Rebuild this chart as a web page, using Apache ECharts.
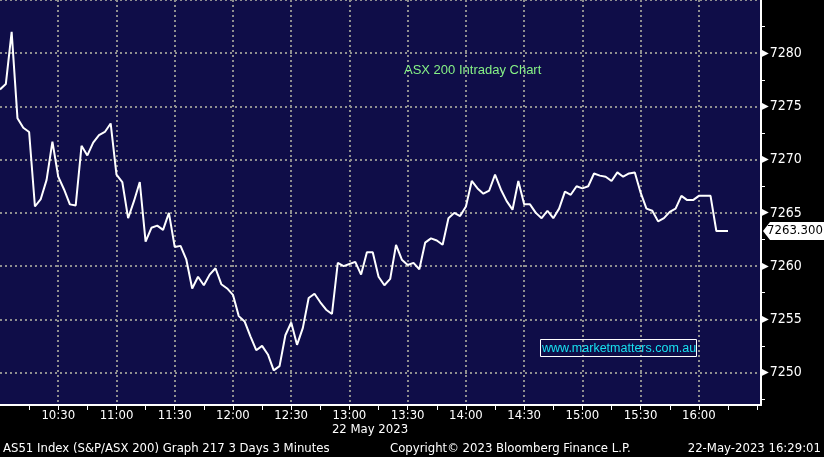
<!DOCTYPE html>
<html>
<head>
<meta charset="utf-8">
<script src="https://cdn.jsdelivr.net/npm/echarts@6/dist/echarts.min.js"></script>
<style>
  html, body { margin: 0; padding: 0; background: #000; }
  #chart { width: 824px; height: 457px; }
</style>
</head>
<body>
<div id="chart"></div>
<script>
// 3-minute bars, 22 May 2023
const times = [
  '10:00','10:03','10:06','10:09','10:12','10:15','10:18','10:21','10:24','10:27',
  '10:30','10:33','10:36','10:39','10:42','10:45','10:48','10:51','10:54','10:57',
  '11:00','11:03','11:06','11:09','11:12','11:15','11:18','11:21','11:24','11:27',
  '11:30','11:33','11:36','11:39','11:42','11:45','11:48','11:51','11:54','11:57',
  '12:00','12:03','12:06','12:09','12:12','12:15','12:18','12:21','12:24','12:27',
  '12:30','12:33','12:36','12:39','12:42','12:45','12:48','12:51','12:54','12:57',
  '13:00','13:03','13:06','13:09','13:12','13:15','13:18','13:21','13:24','13:27',
  '13:30','13:33','13:36','13:39','13:42','13:45','13:48','13:51','13:54','13:57',
  '14:00','14:03','14:06','14:09','14:12','14:15','14:18','14:21','14:24','14:27',
  '14:30','14:33','14:36','14:39','14:42','14:45','14:48','14:51','14:54','14:57',
  '15:00','15:03','15:06','15:09','15:12','15:15','15:18','15:21','15:24','15:27',
  '15:30','15:33','15:36','15:39','15:42','15:45','15:48','15:51','15:54','15:57',
  '16:00','16:03','16:06','16:09','16:12','16:15'
];
const values = [
  7276.6, 7277.1, 7282.0, 7273.9, 7273.0, 7272.6, 7265.6, 7266.3, 7268.1, 7271.7,
  7268.4, 7267.2, 7265.8, 7265.7, 7271.3, 7270.4, 7271.6, 7272.3, 7272.6, 7273.4,
  7268.6, 7267.9, 7264.5, 7266.1, 7267.9, 7262.3, 7263.6, 7263.8, 7263.4, 7265.0,
  7261.8, 7261.9, 7260.6, 7257.9, 7259.0, 7258.2, 7259.2, 7259.8, 7258.3, 7257.9,
  7257.3, 7255.3, 7254.8, 7253.4, 7252.1, 7252.5, 7251.7, 7250.2, 7250.6, 7253.5,
  7254.7, 7252.6, 7254.2, 7257.0, 7257.4, 7256.6, 7255.9, 7255.5, 7260.3, 7260.0,
  7260.2, 7260.4, 7259.2, 7261.3, 7261.3, 7259.0, 7258.2, 7258.8, 7262.0, 7260.6,
  7260.1, 7260.3, 7259.7, 7262.2, 7262.6, 7262.4, 7262.0, 7264.5, 7265.0, 7264.7,
  7265.6, 7268.0, 7267.3, 7266.8, 7267.1, 7268.6, 7267.2, 7266.1, 7265.3, 7268.0,
  7265.8, 7265.8, 7265.0, 7264.5, 7265.2, 7264.5, 7265.4, 7267.0, 7266.7, 7267.5,
  7267.3, 7267.5, 7268.7, 7268.5, 7268.4, 7268.0, 7268.8, 7268.4, 7268.7, 7268.8,
  7266.9, 7265.4, 7265.2, 7264.2, 7264.5, 7265.1, 7265.4, 7266.6, 7266.2, 7266.2,
  7266.6, 7266.6, 7266.6, 7263.3, 7263.3, 7263.3
];
const timeLabels = ['10:30','11:00','11:30','12:00','12:30','13:00','13:30','14:00','14:30','15:00','15:30','16:00'];
const quarterTicks = ['10:15','10:45','11:15','11:45','12:15','12:45','13:15','13:45','14:15','14:45','15:15','15:45','16:15','16:30'];
const priceGrid = [7250, 7255, 7260, 7265, 7270, 7275, 7280, 7285];
const priceLabels = [7250, 7255, 7260, 7265, 7270, 7275, 7280];
const priceMinor = [7247.5, 7252.5, 7257.5, 7262.5, 7267.5, 7272.5, 7277.5, 7282.5];
const lastPrice = 7263.3;

const xMin = 600, xMax = 992;   // minutes since midnight, 10:00 .. ~16:32
const yMin = 7246.95, yMax = 7285;

const toMin = s => { const p = s.split(':'); return +p[0] * 60 + +p[1]; };
const fmtTime = v => {
  const h = Math.floor(v / 60), m = Math.round(v % 60);
  return h + ':' + (m < 10 ? '0' : '') + m;
};

const narrow = '"DejaVu Sans Condensed", "DejaVu Sans", sans-serif';
const gridLine = { show: true, lineStyle: { color: '#8f8f8f', width: 2, type: [2, 3] } };
const footFont = '13px "DejaVu Sans Condensed", "DejaVu Sans", sans-serif';

const chart = echarts.init(document.getElementById('chart'));

const option = {
  backgroundColor: '#000',
  animation: false,
  grid: {
    left: -2.4, right: 63, top: 0, bottom: 52,
    show: true, backgroundColor: '#0f0d48', borderWidth: 0
  },
  title: [
    {
      text: 'ASX 200 Intraday Chart', left: 404, top: 64, padding: 0,
      textStyle: { color: '#86f186', fontSize: 13, fontWeight: 'normal', fontFamily: 'Liberation Sans' }
    },
    {
      text: 'www.marketmatters.com.au', left: 540, top: 339, padding: [3, 1, 2, 2],
      borderColor: '#fff', borderWidth: 1,
      textStyle: { color: '#18e0f0', fontSize: 12.5, fontWeight: 'normal', fontFamily: 'Liberation Sans' }
    }
  ],
  xAxis: [
    {
      type: 'value', min: xMin, max: xMax, position: 'bottom',
      axisLine: { show: true, lineStyle: { color: '#fff', width: 2 } },
      axisTick: { show: false, customValues: timeLabels.map(toMin) },
      axisLabel: {
        customValues: timeLabels.map(toMin), formatter: fmtTime,
        color: '#fff', fontSize: 13, fontFamily: narrow, margin: 4
      },
      splitLine: gridLine
    },
    {
      type: 'value', min: xMin, max: xMax, position: 'bottom',
      axisLine: { show: false },
      axisTick: { show: true, length: 5, lineStyle: { color: '#fff' },
        customValues: timeLabels.concat(quarterTicks).map(toMin) },
      axisLabel: { show: false },
      splitLine: { show: false }
    }
  ],
  yAxis: [
    {
      type: 'value', min: yMin, max: yMax, position: 'right',
      axisLine: { show: true, lineStyle: { color: '#fff', width: 2 } },
      axisTick: { show: false, customValues: priceGrid },
      axisLabel: {
        customValues: priceLabels, margin: 0,
        formatter: v => '{t|▶}{v|' + v + '}',
        rich: {
          t: { color: '#fff', fontSize: 10, fontFamily: 'DejaVu Sans', padding: [0, 1, 0, 0] },
          v: { color: '#fff', fontSize: 14, fontFamily: narrow }
        }
      },
      splitLine: gridLine
    },
    {
      type: 'value', min: yMin, max: yMax, position: 'right',
      axisLine: { show: false },
      axisTick: { show: true, length: 4, lineStyle: { color: '#fff' }, customValues: priceMinor },
      axisLabel: { show: false },
      splitLine: { show: false }
    }
  ],
  graphic: [
    { type: 'text', x: 370, y: 430, style: { text: '22 May 2023', fill: '#fff', font: footFont, textAlign: 'center', textVerticalAlign: 'middle' } },
    { type: 'text', x: 3, y: 449, style: { text: 'AS51 Index (S&P/ASX 200) Graph 217 3 Days 3 Minutes', fill: '#fff', font: footFont, textVerticalAlign: 'middle' } },
    { type: 'text', x: 390, y: 449, style: { text: 'Copyright© 2023 Bloomberg Finance L.P.', fill: '#fff', font: footFont, textVerticalAlign: 'middle' } },
    { type: 'text', x: 821, y: 449, style: { text: '22-May-2023 16:29:01', fill: '#fff', font: footFont, textAlign: 'right', textVerticalAlign: 'middle' } }
  ],
  series: [
    {
      type: 'line',
      xAxisIndex: 0, yAxisIndex: 0,
      data: times.map((t, i) => [toMin(t), values[i]]),
      showSymbol: false,
      lineStyle: { color: '#fff', width: 2 },
      itemStyle: { color: '#fff' },
      markPoint: {
        silent: true,
        symbol: 'path://M0,9 L7,0 L70,0 L70,18 L7,18 Z',
        symbolSize: [70, 18],
        symbolKeepAspect: false,
        symbolOffset: [37, 0],
        itemStyle: { color: '#fff' },
        label: {
          show: true, position: 'inside', offset: [-3, 0],
          color: '#000', fontSize: 13, fontFamily: narrow,
          formatter: p => p.value.toFixed(3)
        },
        data: [{ coord: [xMax, lastPrice], value: lastPrice }]
      }
    }
  ]
};

chart.setOption(option);
</script>
</body>
</html>
